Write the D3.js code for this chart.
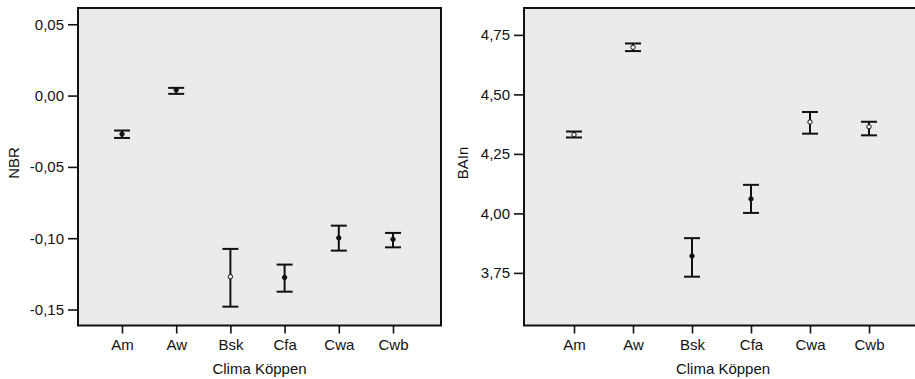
<!DOCTYPE html>
<html>
<head>
<meta charset="utf-8">
<script src="https://cdn.jsdelivr.net/npm/d3@7"></script>
<style>
  body { margin: 0; background: #fff; }
  text { font-family: "Liberation Sans", Arial, sans-serif; fill: #111; }
</style>
</head>
<body>
<div id="chart"></div>
<script>
// climate classes
var climas = ["Am", "Aw", "Bsk", "Cfa", "Cwa", "Cwb"];

// NBR: mean, lower, upper
var nbrMean = [-0.027, 0.004, -0.127, -0.1275, -0.0998, -0.1008];
var nbrLow  = [-0.0297, 0.0012, -0.148, -0.1375, -0.1087, -0.1064];
var nbrHigh = [-0.0245, 0.0054, -0.1075, -0.1185, -0.0912, -0.0963];
var nbrTicks = [0.05, 0, -0.05, -0.10, -0.15];
var nbrOpen = [false, false, true, false, false, false];

// BAIn: mean, lower, upper
var baiMean = [4.331, 4.698, 3.821, 4.061, 4.384, 4.364];
var baiLow  = [4.319, 4.682, 3.734, 4.002, 4.335, 4.328];
var baiHigh = [4.344, 4.714, 3.896, 4.120, 4.426, 4.385];
var baiTicks = [4.75, 4.50, 4.25, 4.00, 3.75];
var baiOpen = [true, true, false, false, true, true];

var svg = d3.select("#chart").append("svg")
  .attr("width", 915).attr("height", 379);

var fmt = function(d){ return d3.format(".2f")(d).replace(".", ",").replace("−", "-"); };

function panel(opt) {
  var g = svg.append("g");
  var x0 = opt.left, x1 = opt.right, y0 = 8, y1 = 325.5;

  var x = d3.scalePoint().domain(climas).range([x0 + opt.padL, x1 - opt.padR]);
  var y = d3.scaleLinear().domain(opt.domain).range([y1, y0]);

  g.append("rect")
    .attr("x", x0).attr("y", y0)
    .attr("width", x1 - x0).attr("height", y1 - y0)
    .attr("fill", "#ebebeb")
    .attr("stroke", "#111").attr("stroke-width", 2);

  var ya = g.append("g").attr("transform", "translate(" + x0 + ",0)")
    .call(d3.axisLeft(y).tickValues(opt.ticks).tickFormat(fmt).tickSize(10).tickPadding(4));
  ya.select(".domain").remove();
  ya.selectAll("line").attr("stroke", "#111").attr("stroke-width", 1.6);
  ya.selectAll("text").style("font-size", "15px").attr("fill", "#111");

  var xa = g.append("g").attr("transform", "translate(0," + y1 + ")")
    .call(d3.axisBottom(x).tickSize(8).tickPadding(6));
  xa.select(".domain").remove();
  xa.selectAll("line").attr("stroke", "#111").attr("stroke-width", 1.6);
  xa.selectAll("text").style("font-size", "15px").attr("fill", "#111");

  g.append("text")
    .attr("x", (x0 + opt.titleRight) / 2).attr("y", 374)
    .attr("text-anchor", "middle").style("font-size", "15px")
    .text("Clima Köppen");

  g.append("text")
    .attr("transform", "translate(" + opt.labelX + ",163) rotate(-90)")
    .attr("text-anchor", "middle").style("font-size", "15px")
    .text(opt.label);

  var rows = climas.map(function(c, i){
    return { c: c, m: opt.mean[i], lo: opt.low[i], hi: opt.high[i], open: opt.open[i] };
  });
  var bars = g.selectAll(".eb").data(rows).enter().append("g").attr("class", "eb");
  bars.append("line")
    .attr("x1", function(d){ return x(d.c); }).attr("x2", function(d){ return x(d.c); })
    .attr("y1", function(d){ return y(d.lo); }).attr("y2", function(d){ return y(d.hi); })
    .attr("stroke", "#111").attr("stroke-width", 2);
  ["lo", "hi"].forEach(function(k){
    bars.append("line")
      .attr("x1", function(d){ return x(d.c) - 8; }).attr("x2", function(d){ return x(d.c) + 8; })
      .attr("y1", function(d){ return y(d[k]); }).attr("y2", function(d){ return y(d[k]); })
      .attr("stroke", "#111").attr("stroke-width", 2);
  });
  bars.append("circle")
    .attr("cx", function(d){ return x(d.c); })
    .attr("cy", function(d){ return y(d.m); })
    .attr("r", 2.2)
    .attr("fill", function(d){ return d.open ? "#f4f4f4" : "#111"; })
    .attr("stroke", "#111").attr("stroke-width", 1);
}

panel({ left: 78, right: 441, padL: 44, padR: 48, titleRight: 441,
  domain: [-0.1612, 0.0614], ticks: nbrTicks, label: "NBR", labelX: 19,
  mean: nbrMean, low: nbrLow, high: nbrHigh, open: nbrOpen });

panel({ left: 524, right: 930, padL: 50, padR: 61, titleRight: 922,
  domain: [3.529, 4.863], ticks: baiTicks, label: "BAIn", labelX: 468,
  mean: baiMean, low: baiLow, high: baiHigh, open: baiOpen });
</script>
</body>
</html>
